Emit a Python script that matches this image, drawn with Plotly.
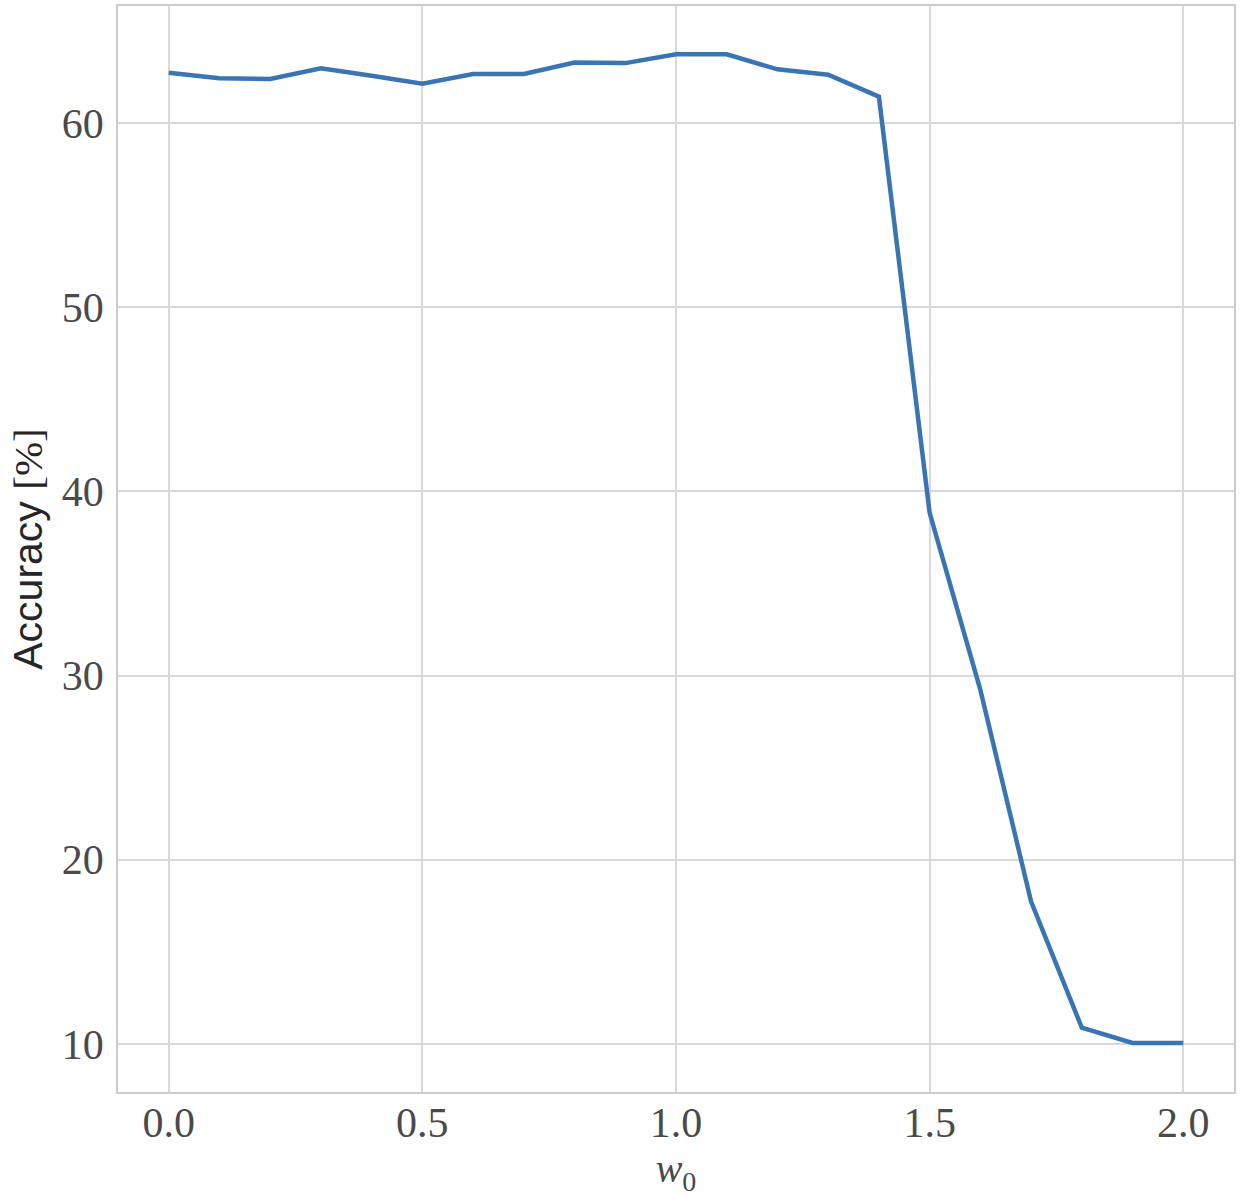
import plotly.graph_objects as go

w0 = [0.0, 0.1, 0.2, 0.3, 0.4, 0.5, 0.6, 0.7, 0.8, 0.9, 1.0,
      1.1, 1.2, 1.3, 1.4, 1.5, 1.6, 1.7, 1.8, 1.9, 2.0]
accuracy = [62.73, 62.43, 62.39, 62.97, 62.56, 62.13, 62.66, 62.66, 63.28, 63.25, 63.73,
            63.73, 62.91, 62.62, 61.43, 38.83, 29.22, 17.73, 10.88, 10.05, 10.05]

x_ticks = [0.0, 0.5, 1.0, 1.5, 2.0]
x_ticklabels = ["0.0", "0.5", "1.0", "1.5", "2.0"]
y_ticks = [10, 20, 30, 40, 50, 60]
y_ticklabels = ["10", "20", "30", "40", "50", "60"]

fig = go.Figure()
fig.add_trace(go.Scatter(
    x=w0, y=accuracy, mode="lines",
    line=dict(color="#3a75b3", width=4.5),
    showlegend=False,
))

serif = "Liberation Serif, Times New Roman, serif"
grid = "#d9d9d9"

fig.update_layout(
    width=1242, height=1198,
    margin=dict(l=118, r=8, t=6, b=106),
    paper_bgcolor="white", plot_bgcolor="white",
    font=dict(family=serif, size=42, color="#4a4a4a"),
)
fig.update_xaxes(
    range=[-0.1, 2.1], automargin=False,
    tickmode="array", tickvals=x_ticks, ticktext=x_ticklabels,
    showgrid=True, gridcolor=grid, gridwidth=1.5,
    showline=True, mirror=True, linecolor="#cccccc", linewidth=1.5,
    zeroline=False, ticks="", ticklabelstandoff=-7,
    tickfont=dict(family=serif, size=42, color="#4a4a4a"),
    title=dict(text="<i>w</i><sub>0</sub>", standoff=0,
               font=dict(family=serif, size=40, color="#4a4a4a")),
)
fig.update_yaxes(
    range=[7.39, 66.35], automargin=False,
    tickmode="array", tickvals=y_ticks, ticktext=y_ticklabels,
    showgrid=True, gridcolor=grid, gridwidth=1.5,
    showline=True, mirror=True, linecolor="#cccccc", linewidth=1.5,
    zeroline=False, ticks="", ticklabelstandoff=4,
    tickfont=dict(family=serif, size=42, color="#4a4a4a"),
    title=dict(text="Accuracy <span style='font-family:Liberation Serif'>[%]</span>",
               standoff=6,
               font=dict(family="Liberation Sans, Arial, sans-serif", size=41, color="#262626")),
)

fig.write_html("out.html", config={"displayModeBar": False},
               post_script="document.body.style.margin='0';document.body.style.overflow='hidden';")
